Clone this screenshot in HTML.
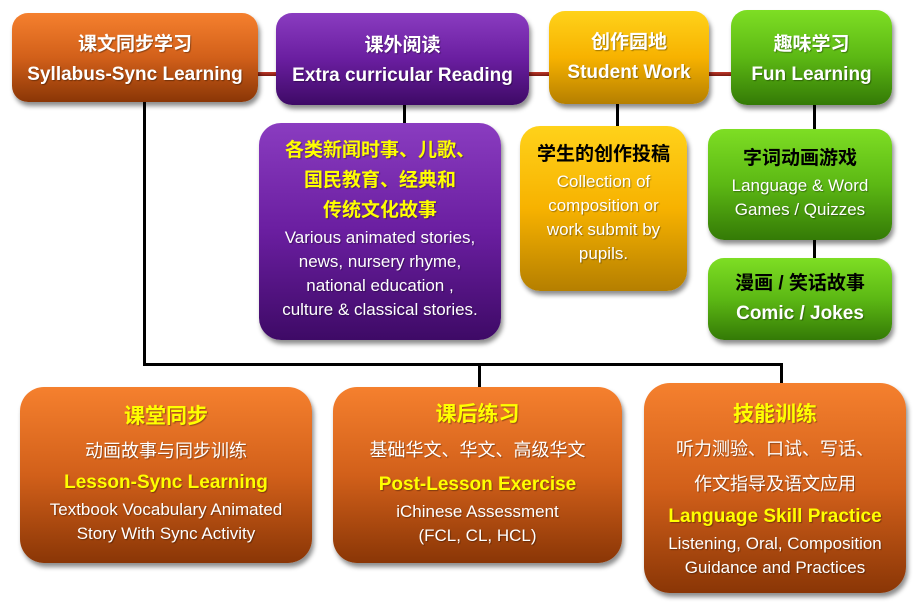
<!DOCTYPE html>
<html><head><meta charset="utf-8"><style>
body{margin:0;width:924px;height:606px;background:#fff;position:relative;overflow:hidden;font-family:"Liberation Sans Narrow","Liberation Sans","Noto Sans CJK SC",sans-serif}
.b{position:absolute;box-sizing:border-box;border-radius:16px;display:flex;flex-direction:column;align-items:center;justify-content:center;text-align:center;color:#fff;box-shadow:2px 4px 5px rgba(0,0,0,.45);text-shadow:1px 1px 1px rgba(0,0,0,.35)}
.or{background:linear-gradient(#f5802e,#d2601a 50%,#8a3606)}
.pu{background:linear-gradient(#8a3cc0,#6a1ea0 50%,#3e0a66)}
.ye{background:linear-gradient(#ffd21a,#f7b200 50%,#b57f00)}
.gr{background:linear-gradient(#7ede24,#5cb814 50%,#347a06)}
.l{position:absolute;background:#000}
.t{font-weight:bold;font-size:19px;line-height:30px}
.y{color:#ffff00}.k{color:#000;text-shadow:none}
.n{font-size:17px;line-height:24px}
</style></head><body>
<div style="position:absolute;left:250px;top:72px;width:500px;height:4px;background:linear-gradient(#c0392b,#7a1a10)"></div>
<div class="l" style="left:143px;top:100px;width:3px;height:266px"></div>
<div class="l" style="left:143px;top:363px;width:640px;height:3px"></div>
<div class="l" style="left:478px;top:363px;width:3px;height:26px"></div>
<div class="l" style="left:780px;top:363px;width:3px;height:22px"></div>
<div class="l" style="left:403px;top:104px;width:3px;height:20px"></div>
<div class="l" style="left:616px;top:104px;width:3px;height:24px"></div>
<div class="l" style="left:813px;top:104px;width:3px;height:160px"></div>

<div class="b or" style="left:12px;top:13px;width:246px;height:89px;padding-top:4px"><div class="t">课文同步学习</div><div class="t">Syllabus-Sync Learning</div></div>
<div class="b pu" style="left:276px;top:13px;width:253px;height:92px;padding-top:4px"><div class="t">课外阅读</div><div class="t">Extra curricular Reading</div></div>
<div class="b ye" style="left:549px;top:11px;width:160px;height:93px"><div class="t">创作园地</div><div class="t">Student Work</div></div>
<div class="b gr" style="left:731px;top:10px;width:161px;height:95px;padding-top:4px"><div class="t">趣味学习</div><div class="t">Fun Learning</div></div>

<div class="b pu" style="left:259px;top:123px;width:242px;height:217px;border-radius:22px;padding-bottom:6px"><div class="t y" style="line-height:30px">各类新闻时事、儿歌、<br>国民教育、经典和<br>传统文化故事</div><div class="n">Various animated stories,<br>news, nursery rhyme,<br>national education ,<br>culture &amp; classical stories.</div></div>
<div class="b ye" style="left:520px;top:126px;width:167px;height:165px;border-radius:20px;justify-content:flex-start;padding-top:14px"><div class="t k">学生的创作投稿</div><div class="n">Collection of<br>composition or<br>work submit by<br>pupils.</div></div>
<div class="b gr" style="left:708px;top:129px;width:184px;height:111px;padding-bottom:4px"><div class="t k">字词动画游戏</div><div class="n">Language &amp; Word<br>Games / Quizzes</div></div>
<div class="b gr" style="left:708px;top:258px;width:184px;height:82px"><div class="t k">漫画 / 笑话故事</div><div class="t">Comic / Jokes</div></div>

<div class="b or" style="left:20px;top:387px;width:292px;height:176px;border-radius:24px;padding-bottom:4px"><div class="t y" style="font-size:21px;line-height:34px">课堂同步</div><div class="n" style="font-size:18px;line-height:34px">动画故事与同步训练</div><div class="t y">Lesson-Sync Learning</div><div class="n">Textbook Vocabulary Animated<br>Story With Sync Activity</div></div>
<div class="b or" style="left:333px;top:387px;width:289px;height:176px;border-radius:24px;justify-content:flex-start;padding-top:13px"><div class="t y" style="font-size:21px;line-height:30px">课后练习</div><div class="n" style="font-size:18px;line-height:40px">基础华文、华文、高级华文</div><div class="t y">Post-Lesson Exercise</div><div class="n">iChinese Assessment<br>(FCL, CL, HCL)</div></div>
<div class="b or" style="left:644px;top:383px;width:262px;height:210px;border-radius:26px;padding-top:2px"><div class="t y" style="font-size:21px;line-height:34px">技能训练</div><div class="n" style="font-size:18px;line-height:35px">听力测验、口试、写话、<br>作文指导及语文应用</div><div class="t y">Language Skill Practice</div><div class="n">Listening, Oral, Composition<br>Guidance and Practices</div></div>
</body></html>
